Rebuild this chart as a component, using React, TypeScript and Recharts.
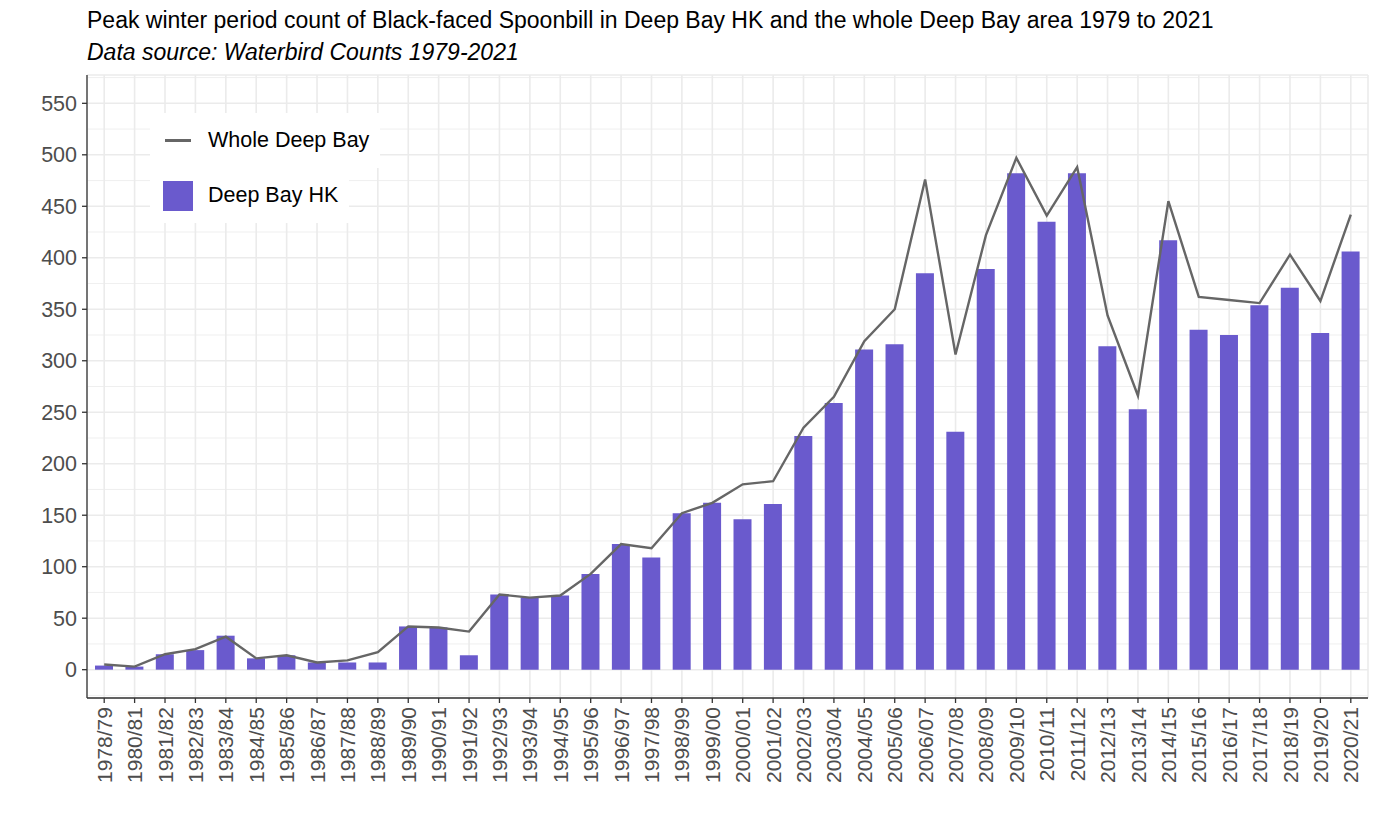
import React from 'react';
import { Bar, CartesianGrid, ComposedChart, Legend, Line, XAxis, YAxis } from 'recharts';

const seasons = [
  '1978/79', '1980/81', '1981/82', '1982/83', '1983/84', '1984/85', '1985/86', '1986/87',
  '1987/88', '1988/89', '1989/90', '1990/91', '1991/92', '1992/93', '1993/94', '1994/95',
  '1995/96', '1996/97', '1997/98', '1998/99', '1999/00', '2000/01', '2001/02', '2002/03',
  '2003/04', '2004/05', '2005/06', '2006/07', '2007/08', '2008/09', '2009/10', '2010/11',
  '2011/12', '2012/13', '2013/14', '2014/15', '2015/16', '2016/17', '2017/18', '2018/19',
  '2019/20', '2020/21',
];

// Deep Bay HK peak counts (bars)
const hkCounts = [
  4, 3, 15, 19, 33, 11, 14, 7, 7, 7, 42, 41, 14, 73, 70, 72, 93, 122, 109, 152, 162, 146,
  161, 227, 259, 311, 316, 385, 231, 389, 482, 435, 482, 314, 253, 417, 330, 325, 354, 371,
  327, 406,
];

// Whole Deep Bay peak counts (line)
const wholeCounts = [
  5, 3, 15, 20, 32, 11, 14, 7, 9, 17, 42, 41, 37, 73, 70, 72, 93, 122, 118, 152, 162, 180,
  183, 235, 265, 319, 350, 476, 306, 422, 497, 441, 488, 344, 266, 455, 362, 359, 356, 403,
  358, 442,
];

const majorTicks = [0, 50, 100, 150, 200, 250, 300, 350, 400, 450, 500, 550];
const minorTicks = [-25, 25, 75, 125, 175, 225, 275, 325, 375, 425, 475, 525, 575];

const data = seasons.map((season, i) => ({
  season,
  hk: hkCounts[i],
  whole: wholeCounts[i],
}));

const FONT = '"Liberation Sans", Arial, Helvetica, sans-serif';
const BAR_COLOR = '#6a5acd';
const LINE_COLOR = '#666666';
const GRID = '#ebebeb';
const AXIS_TEXT = '#4d4d4d';
const BORDER = '#333333';

function SeasonTick({ x, y, payload }: any) {
  return (
    <text
      x={x}
      y={y}
      transform={`rotate(-90 ${x} ${y})`}
      textAnchor="end"
      dy="0.36em"
      fontSize={21}
      fill={AXIS_TEXT}
    >
      {payload.value}
    </text>
  );
}

function LegendBox() {
  const row: React.CSSProperties = {
    display: 'flex',
    alignItems: 'center',
    background: '#fff',
    height: 55,
    paddingLeft: 13,
    paddingRight: 11,
    width: 'fit-content',
    fontSize: 21.5,
    color: '#000',
  };
  return (
    <div style={{ fontFamily: FONT }}>
      <div style={row}>
        <div style={{ width: 30, display: 'flex', justifyContent: 'center', marginRight: 15 }}>
          <div style={{ width: 26, height: 2.5, background: LINE_COLOR }} />
        </div>
        <span>Whole Deep Bay</span>
      </div>
      <div style={row}>
        <div style={{ width: 30, height: 30, background: BAR_COLOR, marginRight: 15 }} />
        <span>Deep Bay HK</span>
      </div>
    </div>
  );
}

export default function App() {
  return (
    <div
      style={{
        position: 'absolute',
        left: 0,
        top: 0,
        width: 1379,
        height: 827,
        background: '#fff',
        fontFamily: FONT,
      }}
    >
      <div style={{ position: 'absolute', left: 87, top: 8.5, fontSize: 23, lineHeight: '23px', color: '#000', whiteSpace: 'nowrap' }}>
        Peak winter period count of Black-faced Spoonbill in Deep Bay HK and the whole Deep Bay area 1979 to 2021
      </div>
      <div style={{ position: 'absolute', left: 87, top: 40.5, fontSize: 23, lineHeight: '23px', fontStyle: 'italic', color: '#000', whiteSpace: 'nowrap' }}>
        Data source: Waterbird Counts 1979-2021
      </div>
      <ComposedChart
        width={1379}
        height={827}
        data={data}
        margin={{ top: 75, right: 11, bottom: 0, left: 0 }}
      >
        <CartesianGrid stroke={GRID} strokeWidth={0.8} vertical={false} horizontalValues={minorTicks} />
        <CartesianGrid stroke={GRID} strokeWidth={1.6} />
        <XAxis
          dataKey="season"
          interval={0}
          height={129}
          padding={{ left: 2, right: 2 }}
          tick={<SeasonTick />}
          tickSize={5}
          tickMargin={4}
          tickLine={{ stroke: BORDER, strokeWidth: 1.3 }}
          axisLine={{ stroke: BORDER, strokeWidth: 1.3 }}
        />
        <XAxis
          xAxisId="top"
          dataKey="season"
          orientation="top"
          height={0}
          tick={false}
          tickLine={false}
          axisLine={{ stroke: BORDER, strokeWidth: 1.3 }}
        />
        <YAxis
          width={87}
          domain={[-27.5, 577.5]}
          ticks={majorTicks}
          allowDataOverflow
          tickSize={5}
          tickMargin={5}
          tick={{ fontSize: 21.5, fill: AXIS_TEXT }}
          tickLine={{ stroke: BORDER, strokeWidth: 1.3 }}
          axisLine={{ stroke: BORDER, strokeWidth: 1.3 }}
        />
        <YAxis
          yAxisId="right"
          orientation="right"
          width={0}
          domain={[-27.5, 577.5]}
          tick={false}
          tickLine={false}
          axisLine={{ stroke: BORDER, strokeWidth: 1.3 }}
        />
        <Legend
          layout="vertical"
          align="center"
          verticalAlign="middle"
          content={<LegendBox />}
          wrapperStyle={{ position: 'absolute', left: 150, top: 113, width: 'auto' }}
        />
        <Bar dataKey="hk" name="Deep Bay HK" fill={BAR_COLOR} barSize={18} isAnimationActive={false} />
        <Line
          type="linear"
          dataKey="whole"
          name="Whole Deep Bay"
          stroke={LINE_COLOR}
          strokeWidth={2.4}
          dot={false}
          activeDot={false}
          isAnimationActive={false}
        />
      </ComposedChart>
    </div>
  );
}
